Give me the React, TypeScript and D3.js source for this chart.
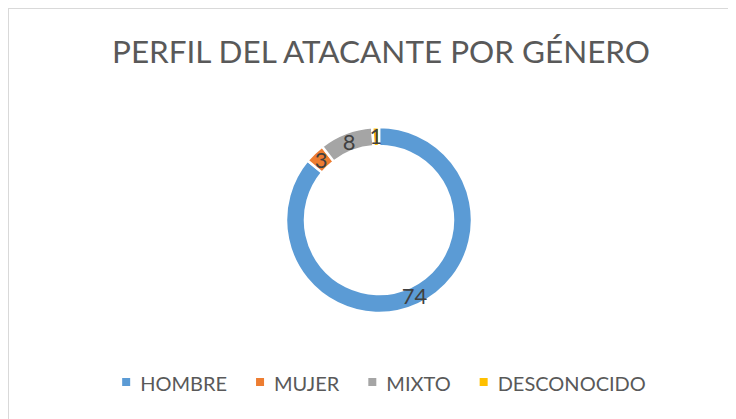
import React, { useEffect, useRef } from "react";
import * as d3 from "d3";

const categories = ["HOMBRE", "MUJER", "MIXTO", "DESCONOCIDO"];
const values = [74, 3, 8, 1];
const colors = ["#5B9BD5", "#ED7D31", "#A5A5A5", "#FFC000"];
const title = "PERFIL DEL ATACANTE POR GÉNERO";

const W = 728;
const H = 411;
const FONT = "Lato, 'Open Sans', sans-serif";

export default function App() {
  const ref = useRef<SVGSVGElement>(null);

  useEffect(() => {
    const svg = d3.select(ref.current);
    svg.selectAll("*").remove();

    svg
      .append("rect")
      .attr("x", 0.5)
      .attr("y", 0.5)
      .attr("width", W + 20)
      .attr("height", H + 20)
      .attr("fill", "#fff")
      .attr("stroke", "#D9D9D9")
      .attr("stroke-width", 1);

    svg
      .append("text")
      .attr("x", 373)
      .attr("y", 55)
      .attr("text-anchor", "middle")
      .attr("font-family", FONT)
      .attr("font-size", 31)
      .attr("fill", "#595959")
      .attr("textLength", 538)
      .attr("lengthAdjust", "spacingAndGlyphs")
      .text(title);

    const cx = 371;
    const cy = 212;
    const outerR = 93;
    const innerR = 74;

    const data = categories.map((c, i) => ({ c, v: values[i], color: colors[i] }));
    const pie = d3.pie<any>().sort(null).value((d: any) => d.v);
    const arcs = pie(data);
    const arc = d3.arc<any>().innerRadius(innerR).outerRadius(outerR);
    const labelArc = d3.arc<any>().innerRadius((innerR + outerR) / 2).outerRadius((innerR + outerR) / 2);

    const g = svg.append("g").attr("transform", `translate(${cx},${cy})`);
    g.selectAll("path")
      .data(arcs)
      .enter()
      .append("path")
      .attr("d", arc as any)
      .attr("fill", (d: any) => d.data.color)
      .attr("stroke", "#fff")
      .attr("stroke-width", 2.5)
      .attr("stroke-linejoin", "round");

    g.selectAll("text.lbl")
      .data(arcs)
      .enter()
      .append("text")
      .attr("class", "lbl")
      .attr("transform", (d: any) => {
        const [x, y] = labelArc.centroid(d);
        return `translate(${x},${y})`;
      })
      .attr("text-anchor", "middle")
      .attr("dy", "0.36em")
      .attr("font-family", FONT)
      .attr("font-size", 22)
      .attr("fill", "#404040")
      .text((d: any) => d.v ?? d.data.v);

    // legend
    const lg = svg.append("g");
    const fs = 20;
    const marker = 8;
    const mGap = 10;
    const itemGap = 29;
    const items = lg
      .selectAll("g")
      .data(data)
      .enter()
      .append("g");
    items
      .append("text")
      .attr("font-family", FONT)
      .attr("font-size", fs)
      .attr("fill", "#595959")
      .attr("y", 383)
      .text((d: any) => d.c);
    const widths: number[] = [];
    items.each(function () {
      const t = d3.select(this).select("text").node() as SVGTextElement;
      widths.push(t.getComputedTextLength());
    });
    const total =
      widths.reduce((a, w) => a + marker + mGap + w, 0) + itemGap * (widths.length - 1);
    let x = 376 - total / 2;
    items.each(function (d: any, i: number) {
      const gi = d3.select(this);
      gi.append("rect")
        .attr("x", x)
        .attr("y", 370)
        .attr("width", marker)
        .attr("height", marker)
        .attr("fill", d.color);
      gi.select("text").attr("x", x + marker + mGap);
      x += marker + mGap + widths[i] + itemGap;
    });
  }, []);

  return <svg ref={ref} width={W} height={H} style={{ display: "block" }} />;
}
